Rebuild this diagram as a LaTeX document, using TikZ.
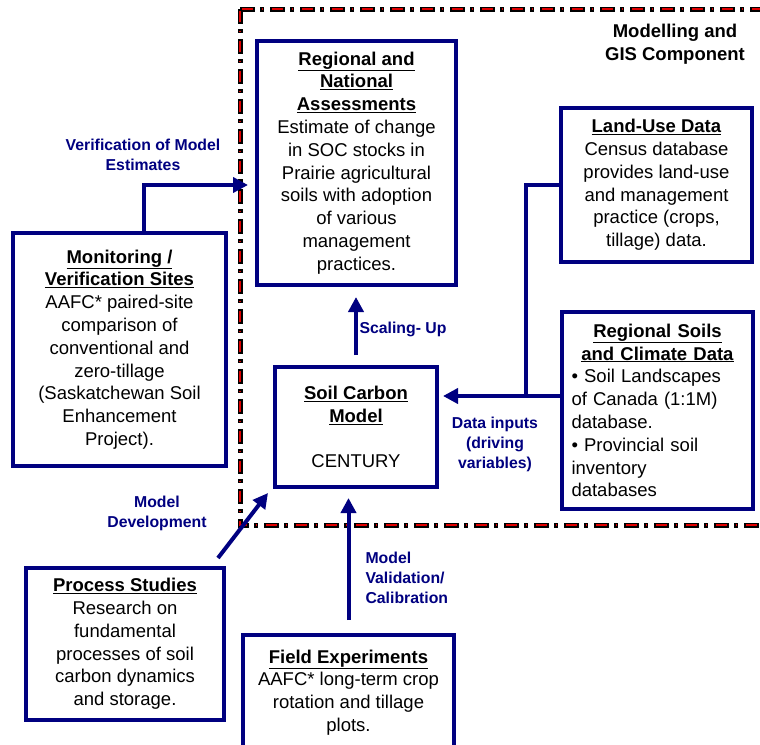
\documentclass[tikz,border=0pt]{standalone}
\usepackage{fontspec}
\setmainfont{Liberation Sans}
\usetikzlibrary{arrows.meta}
\definecolor{navy}{RGB}{0,0,128}
\definecolor{dashred}{RGB}{225,0,0}
\newcommand{\ttl}[1]{\underline{\textbf{#1}}}

\begin{document}
\begin{tikzpicture}[x=1pt,y=-1pt,
    box/.style={draw=navy, line width=4pt, fill=white, align=center, inner sep=6pt,
      outer sep=0pt, font=\fontsize{18.5}{22.8}\selectfont},
    lbl/.style={text=navy, align=center, font=\bfseries\fontsize{15.8}{20}\selectfont},
    arr/.style={navy, line width=4pt, -{Triangle[length=15pt,width=15pt]}},
    link/.style={navy, line width=4pt},
    bordblack/.style={line width=5pt, dash pattern=on 15pt off 5pt on 4pt off 6pt},
    bordred/.style={dashred, line width=1.8pt,
      dash pattern=on 0pt off 2pt on 11pt off 8.5pt on 1pt off 7.5pt}]
  \useasboundingbox (0,0) rectangle (760,744);

  % component border
  \begin{scope}
    \draw[bordblack] (240,9) -- (770,9);
    \draw[bordblack] (240,9) -- (240,525) -- (770,525);
    \draw[bordred] (240,9) -- (770,9);
    \draw[bordred] (240,9) -- (240,525) -- (770,525);
  \end{scope}
  \node[font=\bfseries\fontsize{18.5}{22.8}\selectfont, align=center] (gis) at (675,44)
    {Modelling and\\GIS Component};

  \node[box, minimum width=199pt, minimum height=244pt] (reg) at (356.5,163)
    {\ttl{Regional and}\\\ttl{National}\\\ttl{Assessments}\\Estimate of change\\in SOC stocks in\\Prairie agricultural\\soils with adoption\\of various\\management\\practices.};
  \node[box, minimum width=191pt, minimum height=154pt] (land) at (656.5,185)
    {\ttl{Land-Use Data}\\Census database\\provides land-use\\and management\\practice (crops,\\tillage) data.};
  \node[box, align=left, text width=172pt, inner sep=9.5pt, minimum height=197pt] (soils) at (657.5,410.5)
    {\makebox[172pt][c]{\ttl{Regional Soils}}\\\makebox[172pt][c]{\ttl{and Climate Data}}\\\textbullet{} Soil Landscapes\\of Canada (1:1M)\\database.\\\textbullet{} Provincial soil\\inventory\\databases};
  \node[box, minimum width=162pt, minimum height=120pt] (soc) at (356,427)
    {\ttl{Soil Carbon}\\\ttl{Model}\\[22.8pt]CENTURY};
  \node[box, minimum width=213pt, minimum height=233pt] (mon) at (119.5,349.5)
    {\ttl{Monitoring /}\\\ttl{Verification Sites}\\AAFC* paired-site\\comparison of\\conventional and\\zero-tillage\\(Saskatchewan Soil\\Enhancement\\Project).};
  \node[box, minimum width=198pt, minimum height=152pt] (proc) at (125,644)
    {\ttl{Process Studies}\\Research on\\fundamental\\processes of soil\\carbon dynamics\\and storage.};
  \node[box, minimum width=211pt, minimum height=115pt] (field) at (348.5,692.5)
    {\ttl{Field Experiments}\\AAFC* long-term crop\\rotation and tillage\\plots.};

  \coordinate (din) at ([yshift=14.5pt]soils.west);
  \draw[arr] ([xshift=24.5pt]mon.north) |- ([shift={(-9pt,-22pt)}]reg.west);
  \draw[arr] ([yshift=12pt]soc.north) -- ([yshift=-12pt]soc.north |- reg.south);
  \draw[link] (land.west) -| ([xshift=-36pt]din);
  \draw[arr] (din) -- ([xshift=6pt]soc.east |- din);
  \draw[arr] ([shift={(-6pt,10pt)}]proc.north east) -- ([shift={(-7pt,-6pt)}]soc.south west);
  \draw[arr] ([yshift=15pt]field.north) -- ([yshift=-11pt]field.north |- soc.south);

  \node[lbl] (verif) at (143,155) {Verification of Model\\Estimates};
  \node[lbl] (scale) at (403,329) {Scaling- Up};
  \node[lbl] (datain) at (495,444) {Data inputs\\(driving\\variables)};
  \node[lbl] (modeldev) at (157,513) {Model\\Development};
  \node[lbl, align=left, anchor=west] (modelval) at (362,578) {Model\\Validation/\\Calibration};
\end{tikzpicture}
\end{document}
